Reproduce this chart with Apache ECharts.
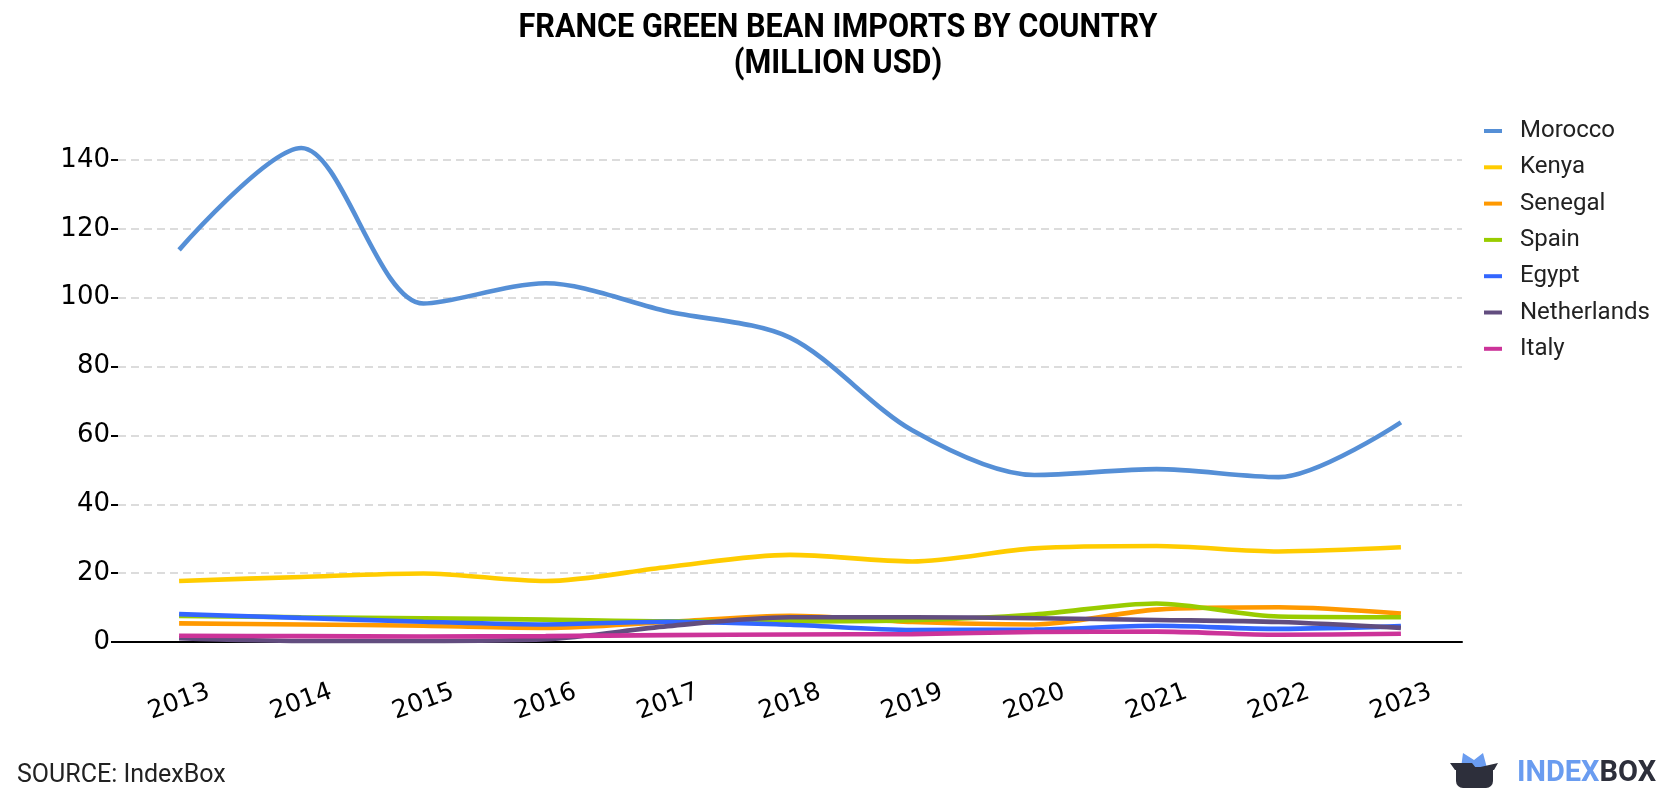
<!DOCTYPE html>
<html>
<head>
<meta charset="utf-8">
<script src="https://cdn.jsdelivr.net/npm/echarts@6/dist/echarts.min.js"></script>
<style>html,body{margin:0;padding:0;background:#fff}#c{width:1680px;height:800px}</style>
</head>
<body>
<div id="c"></div>
<script>
var years = ['2013','2014','2015','2016','2017','2018','2019','2020','2021','2022','2023'];
var morocco     = [113.9, 143.5, 98.3, 104.2, 96.0, 88.4, 61.5, 48.5, 50.2, 47.9, 63.8];
var kenya       = [17.7, 18.9, 19.9, 17.7, 21.8, 25.3, 23.4, 27.2, 27.9, 26.3, 27.5];
var senegal     = [5.4, 5.1, 4.7, 4.1, 5.8, 7.6, 5.8, 5.1, 9.4, 10.1, 8.3];
var spain       = [7.6, 7.2, 6.9, 6.5, 6.0, 6.0, 6.3, 8.0, 11.2, 7.4, 7.2];
var egypt       = [8.1, 7.0, 5.9, 5.1, 5.9, 5.0, 3.5, 3.6, 4.7, 3.8, 4.6];
var netherlands = [1.1, 0.3, 0.3, 0.8, 4.6, 7.2, 7.2, 6.9, 6.4, 5.8, 4.1];
var italy       = [1.8, 1.7, 1.6, 1.7, 2.0, 2.2, 2.3, 2.9, 3.0, 2.1, 2.4];
var yTicks = [0, 20, 40, 60, 80, 100, 120, 140];
var titleLines = ['FRANCE GREEN BEAN IMPORTS BY COUNTRY', '(MILLION USD)'];

var names  = ['Morocco','Kenya','Senegal','Spain','Egypt','Netherlands','Italy'];
var values = [morocco, kenya, senegal, spain, egypt, netherlands, italy];
var colors = ['#558fd6','#ffcc00','#ff9900','#99cc00','#3366ff','#624d7f','#cc3399'];

var chart = echarts.init(document.getElementById('c'));
chart.setOption({
  animation: false,
  backgroundColor: '#fff',
  legend: {
    orient: 'vertical',
    left: 1479, top: 114,
    icon: 'rect', itemWidth: 18, itemHeight: 4, itemGap: 12.3,
    textStyle: { fontFamily: 'Roboto', fontSize: 24, lineHeight: 24, color: '#222', padding: [0,0,0,13] },
    data: names
  },
  grid: { left: 118, right: 218, top: 160, bottom: 158, containLabel: false },
  xAxis: {
    type: 'category', data: years, boundaryGap: true, offset: 22,
    axisLine: { lineStyle: { color: '#000', width: 2 } },
    axisTick: { alignWithLabel: true, length: 7, lineStyle: { color: '#000', width: 2 } },
    axisLabel: { rotate: 20, align: 'center', verticalAlign: 'middle', margin: 38,
      fontFamily: 'DejaVu Sans', fontSize: 25, color: '#000' },
    splitLine: { show: false }
  },
  yAxis: {
    type: 'value', min: yTicks[0], max: yTicks[yTicks.length-1], interval: yTicks[1]-yTicks[0],
    axisLine: { show: false },
    axisTick: { show: true, length: 7, lineStyle: { color: '#000', width: 2 } },
    axisLabel: { margin: 8, fontFamily: 'DejaVu Sans', fontSize: 26, color: '#000' },
    splitLine: { lineStyle: { color: '#dcdcdc', width: 2, type: [8, 5] } }
  },
  series: names.map(function (n, i) {
    return {
      name: n, type: 'line', data: values[i], smooth: 0.3, symbol: 'none', clip: false,
      lineStyle: { color: colors[i], width: 4.6 }, itemStyle: { color: colors[i] }
    };
  }),
  graphic: [
    { type: 'text', x: 838, y: 28, scaleX: 0.9, style: { text: titleLines[0], font: 'bold 34px Roboto', fill: '#000', textAlign: 'center', textVerticalAlign: 'middle' } },
    { type: 'text', x: 838, y: 64, scaleX: 0.9, style: { text: titleLines[1], font: 'bold 34px Roboto', fill: '#000', textAlign: 'center', textVerticalAlign: 'middle' } },
    { type: 'text', x: 17, y: 776, style: { text: 'SOURCE: IndexBox', font: '25px Roboto', fill: '#222', textVerticalAlign: 'middle' } },
    { type: 'polygon', shape: { points: [[1461,768],[1463,753],[1474,760],[1483,753],[1487,768]] }, style: { fill: '#6a9cf0' } },
    { type: 'polygon', shape: { points: [[1450,763],[1472,763],[1476,768],[1498,763],[1494,770],[1455,770]] }, style: { fill: '#2d2f3b' } },
    { type: 'rect', shape: { x: 1456, y: 767, width: 37, height: 21, r: [0,0,7,7] }, style: { fill: '#2d2f3b' } },
    { type: 'text', x: 1517, y: 774, style: {
        text: '{a|INDEX}{b|BOX}', textVerticalAlign: 'middle',
        rich: { a: { fontFamily: 'Roboto', fontWeight: 'bold', fontSize: 29, fill: '#6a9cf0' },
                b: { fontFamily: 'Roboto', fontWeight: 'bold', fontSize: 29, fill: '#2d2f3b' } } } }
  ]
});
</script>
</body>
</html>
